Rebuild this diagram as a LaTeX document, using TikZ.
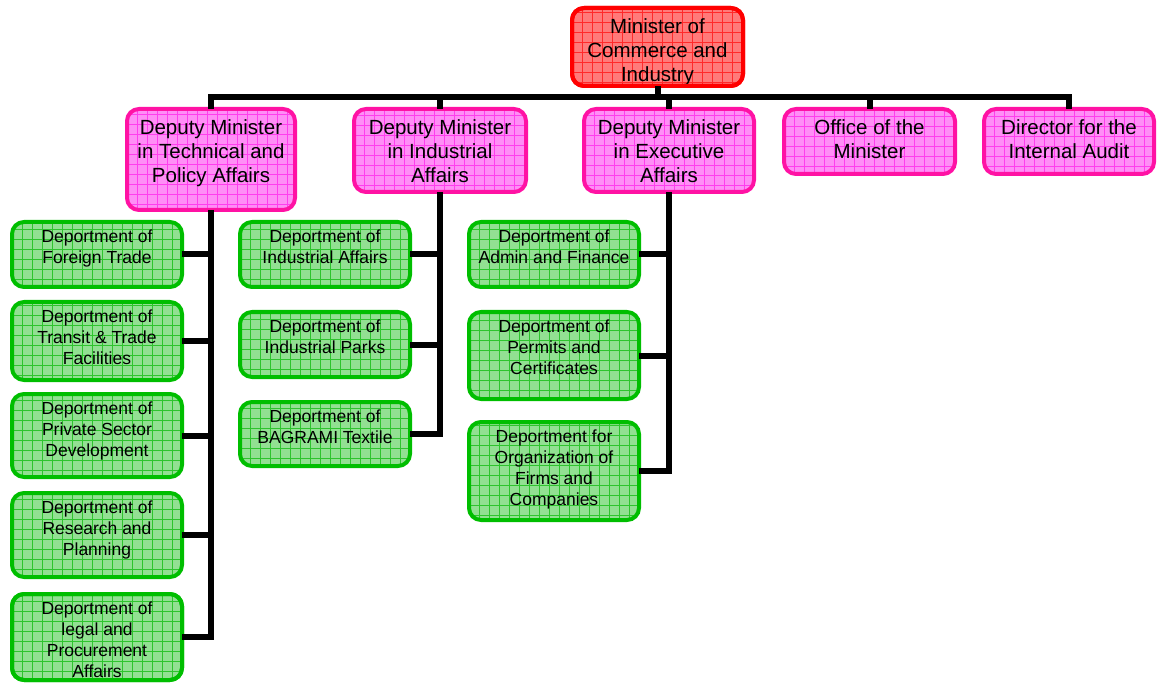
\documentclass[tikz,border=0pt]{standalone}
\usepackage{fontspec}
\setmainfont{Liberation Sans}
\definecolor{redb}{HTML}{FF0000}
\definecolor{redf}{HTML}{FF7A7A}
\definecolor{redg}{HTML}{FF2A2A}
\definecolor{pinkb}{HTML}{FF12A4}
\definecolor{pinkf}{HTML}{FF8EF6}
\definecolor{pinkg}{HTML}{FF3EEE}
\definecolor{greenb}{HTML}{00BE00}
\definecolor{greenf}{HTML}{92E092}
\definecolor{greeng}{HTML}{2EC42E}
\newcommand\bt[3]{\parbox[c][#2pt][t]{#1pt}{\centering\vspace*{\padtop}#3\par}}
\tikzset{
  box/.style n args={3}{draw=#1, fill=#2, line width=4pt, rounded corners=12pt,
    inner sep=0pt, outer sep=0pt,
    path picture={\draw[#3, line width=0.6pt] (path picture bounding box.south west) grid[step=10pt] (path picture bounding box.north east);}},
  minbox/.style={box={redb}{redf}{redg}, font={\fontsize{20.5}{24}\selectfont\def\padtop{10.5pt}}},
  pinkbox/.style={box={pinkb}{pinkf}{pinkg}, font={\fontsize{20.5}{24}\selectfont\def\padtop{11pt}}},
  greenbox/.style={box={greenb}{greenf}{greeng}, font={\fontsize{17.5}{21}\selectfont\def\padtop{8pt}}},
  conn/.style={line width=6pt, draw=black},
}
\begin{document}
\begin{tikzpicture}[x=1pt, y=-1pt]
\useasboundingbox (0,0) rectangle (1158,684);
% top
\node[minbox] (min) at (657.5,47) {\bt{171}{78}{Minister of\\Commerce and\\Industry}};
% deputies
\node[pinkbox] (dm1) at (211,159.5) {\bt{168}{101}{Deputy Minister\\in Technical and\\Policy Affairs}};
\node[pinkbox] (dm2) at (440,150.5) {\bt{172}{83}{Deputy Minister\\in Industrial\\Affairs}};
\node[pinkbox] (dm3) at (669,150.5) {\bt{170}{83}{Deputy Minister\\in Executive\\Affairs}};
\node[pinkbox] (off) at (869.5,141.5) {\bt{171}{65}{Office of the\\Minister}};
\node[pinkbox] (dir) at (1069,141.5) {\bt{170}{65}{Director for the\\Internal Audit}};
% column 1
\node[greenbox] (g1) at (97,254.5) {\bt{170}{65}{Deportment of\\Foreign Trade}};
\node[greenbox] (g2) at (97,341) {\bt{170}{78}{Deportment of\\Transit \& Trade\\Facilities}};
\node[greenbox] (g3) at (97,435.5) {\bt{170}{83}{Deportment of\\Private Sector\\Development}};
\node[greenbox] (g4) at (97,535) {\bt{170}{84}{Deportment of\\Research and\\Planning}};
\node[greenbox] (g5) at (97,637) {\bt{170}{86}{Deportment of\\legal and\\Procurement\\Affairs}};
% column 2
\node[greenbox] (g6) at (325,254.5) {\bt{170}{65}{Deportment of\\Industrial Affairs}};
\node[greenbox] (g7) at (325,344.5) {\bt{170}{65}{Deportment of\\Industrial Parks}};
\node[greenbox] (g8) at (325,434) {\bt{170}{64}{Deportment of\\BAGRAMI Textile}};
% column 3
\node[greenbox] (g9) at (554,254.5) {\bt{170}{65}{Deportment of\\Admin and Finance}};
\node[greenbox] (g10) at (554,355.5) {\bt{170}{87}{Deportment of\\Permits and\\Certificates}};
\node[greenbox] (g11) at (554,471) {\bt{170}{98}{Deportment for\\Organization of\\Firms and\\Companies}};
% redraw borders over overflowing text
\draw[draw=greenb, line width=4pt, rounded corners=12pt] (g5.south west) rectangle (g5.north east);
\draw[draw=redb, line width=4pt, rounded corners=12pt] (min.south west) rectangle (min.north east);
% bus
\coordinate (bus) at (0,97);
\draw[conn] (min.south) -- (min.south |- bus);
\draw[conn] (dm1.north) -- (dm1.north |- bus) -- (dir.north |- bus) -- (dir.north);
\draw[conn] (dm2.north) -- (dm2.north |- bus);
\draw[conn] (dm3.north) -- (dm3.north |- bus);
\draw[conn] (off.north) -- (off.north |- bus);
% column connectors
\draw[conn] (dm1.south) |- (g5.east);
\foreach \g in {g1,g2,g3,g4} \draw[conn] (\g.east) -- (\g.east -| dm1.south);
\draw[conn] (dm2.south) |- (g8.east);
\foreach \g in {g6,g7} \draw[conn] (\g.east) -- (\g.east -| dm2.south);
\draw[conn] (dm3.south) |- (g11.east);
\foreach \g in {g9,g10} \draw[conn] (\g.east) -- (\g.east -| dm3.south);
\end{tikzpicture}
\end{document}
